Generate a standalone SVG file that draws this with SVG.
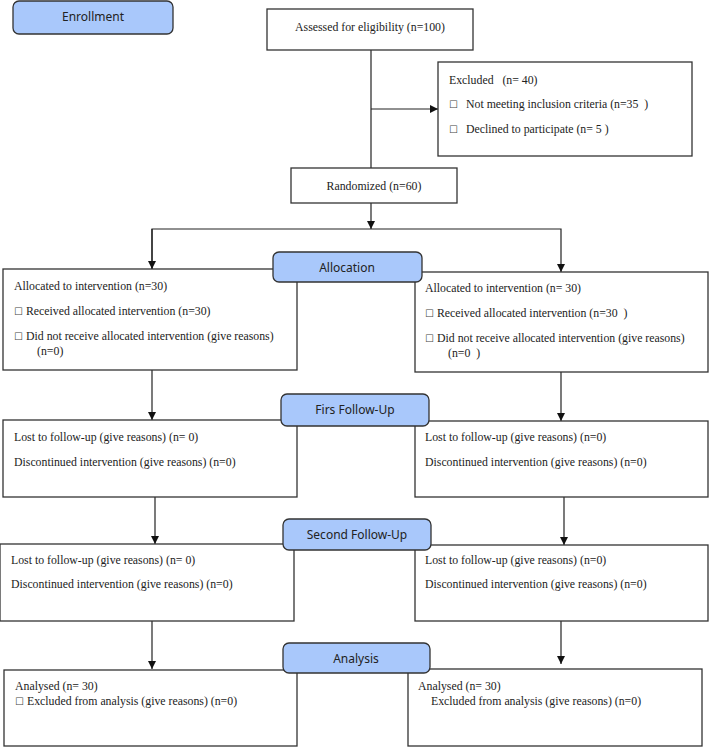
<svg xmlns="http://www.w3.org/2000/svg" width="709" height="747" viewBox="0 0 709 747">
<defs>
<marker id="ah" viewBox="0 0 10 10" refX="10" refY="5" markerWidth="8" markerHeight="8" markerUnits="userSpaceOnUse" orient="auto">
<path d="M0,0 L10,5 L0,10 z" fill="#111"/>
</marker>
<style>
.box{fill:#fff;stroke:#333;stroke-width:1.3}
.lab{fill:#a9c8fb;stroke:#333;stroke-width:1.3}
.t{font-family:"Liberation Serif","Times New Roman",serif;font-size:11.8px;fill:#222;white-space:pre}
.cb{font-family:"DejaVu Sans",sans-serif;font-size:10px;fill:#444}
.l{font-family:"Noto Sans","DejaVu Sans",sans-serif;font-size:12px;fill:#222;text-anchor:middle}
.c{fill:none;stroke:#222;stroke-width:1.2}
</style>
</defs>
<rect width="709" height="747" fill="#fff"/>
<g id="connectors">
<path class="c" d="M371,50 V168"/>
<path class="c" d="M371,109 H438" marker-end="url(#ah)"/>
<path class="c" d="M371,203 V229" marker-end="url(#ah)"/>
<path class="c" d="M152,269 V229 H561 V272" marker-end="url(#ah)"/>
<path class="c" d="M152,229 V269" marker-end="url(#ah)"/>
<path class="c" d="M152,370 V420" marker-end="url(#ah)"/>
<path class="c" d="M561,372 V421" marker-end="url(#ah)"/>
<path class="c" d="M155,497 V544" marker-end="url(#ah)"/>
<path class="c" d="M564,497 V545" marker-end="url(#ah)"/>
<path class="c" d="M152,621 V669" marker-end="url(#ah)"/>
<path class="c" d="M561,617 V664" marker-end="url(#ah)"/>
</g>
<g id="enrollment"><rect class="lab" x="13" y="1" width="160" height="33" rx="6"/><text class="l" x="93" y="21">Enrollment</text></g>
<g id="assessed"><rect class="box" x="267" y="9" width="206" height="41"/><text class="t" x="370" y="31" text-anchor="middle">Assessed for eligibility (n=100)</text></g>
<g id="excluded"><rect class="box" x="438" y="62" width="254" height="94"/>
<text class="t" x="449" y="84">Excluded   (n= 40)</text>
<text class="cb" x="449" y="108">☐</text><text class="t" x="466" y="108">Not meeting inclusion criteria (n=35  )</text>
<text class="cb" x="449" y="133">☐</text><text class="t" x="466" y="133">Declined to participate (n= 5 )</text></g>
<g id="randomized"><rect class="box" x="291" y="168" width="166" height="35"/><text class="t" x="374" y="190" text-anchor="middle">Randomized (n=60)</text></g>
<g id="alloc-left"><rect class="box" x="3" y="269" width="294" height="101"/>
<text class="t" x="14" y="290">Allocated to intervention (n=30)</text>
<text class="cb" x="14" y="315">☐</text><text class="t" x="26" y="315">Received allocated intervention (n=30)</text>
<text class="cb" x="14" y="340">☐</text><text class="t" x="26" y="340">Did not receive allocated intervention (give reasons)</text>
<text class="t" x="37" y="355">(n=0)</text></g>
<g id="alloc-right"><rect class="box" x="415" y="272" width="293" height="100"/>
<text class="t" x="425" y="292">Allocated to intervention (n= 30)</text>
<text class="cb" x="425" y="317">☐</text><text class="t" x="437" y="317">Received allocated intervention (n=30  )</text>
<text class="cb" x="425" y="342">☐</text><text class="t" x="437" y="342">Did not receive allocated intervention (give reasons)</text>
<text class="t" x="448" y="357">(n=0  )</text></g>
<g id="allocation"><rect class="lab" x="273" y="252" width="149" height="30" rx="6"/><text class="l" x="347" y="272">Allocation</text></g>
<g id="fu1-left"><rect class="box" x="3" y="420" width="294" height="77"/>
<text class="t" x="14" y="441">Lost to follow-up (give reasons) (n= 0)</text>
<text class="t" x="14" y="466">Discontinued intervention (give reasons) (n=0)</text></g>
<g id="fu1-right"><rect class="box" x="415" y="421" width="293" height="76"/>
<text class="t" x="425" y="441">Lost to follow-up (give reasons) (n=0)</text>
<text class="t" x="425" y="466">Discontinued intervention (give reasons) (n=0)</text></g>
<g id="first-follow-up"><rect class="lab" x="281" y="394" width="148" height="32" rx="6"/><text class="l" x="355" y="414">Firs Follow-Up</text></g>
<g id="fu2-left"><rect class="box" x="0" y="544" width="294" height="77"/>
<text class="t" x="11" y="564">Lost to follow-up (give reasons) (n= 0)</text>
<text class="t" x="11" y="588">Discontinued intervention (give reasons) (n=0)</text></g>
<g id="fu2-right"><rect class="box" x="415" y="545" width="293" height="76"/>
<text class="t" x="425" y="564">Lost to follow-up (give reasons) (n=0)</text>
<text class="t" x="425" y="588">Discontinued intervention (give reasons) (n=0)</text></g>
<g id="second-follow-up"><rect class="lab" x="283" y="519" width="148" height="31" rx="6"/><text class="l" x="357" y="539">Second Follow-Up</text></g>
<g id="analysis-left"><rect class="box" x="4" y="670" width="293" height="76"/>
<text class="t" x="15" y="690">Analysed (n= 30)</text>
<text class="cb" x="15" y="705">☐</text><text class="t" x="27" y="705">Excluded from analysis (give reasons) (n=0)</text></g>
<g id="analysis-right"><rect class="box" x="408" y="669" width="294" height="77"/>
<text class="t" x="418" y="690">Analysed (n= 30)</text>
<text class="t" x="431" y="705">Excluded from analysis (give reasons) (n=0)</text></g>
<g id="analysis"><rect class="lab" x="283" y="643" width="147" height="30" rx="6"/><text class="l" x="356" y="663">Analysis</text></g>
</svg>
